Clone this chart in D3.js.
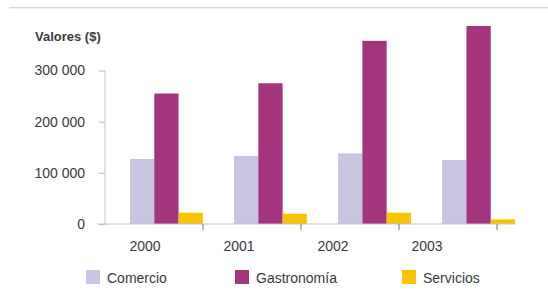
<!DOCTYPE html>
<html>
<head>
<meta charset="utf-8">
<script src="https://cdn.jsdelivr.net/npm/d3@7"></script>
<style>
  html, body { margin: 0; padding: 0; background: #fff; }
  svg { display: block; }
  text { font-family: "Liberation Sans", Arial, Helvetica, sans-serif; fill: #3a3a3a; }
</style>
</head>
<body>
<svg id="chart" width="548" height="295"></svg>
<script>
// ---- data ----
const years = ["2000", "2001", "2002", "2003"];
const seriesNames = ["Comercio", "Gastronomía", "Servicios"];
const comercio = [127000, 133000, 138000, 125000];
const gastronomia = [255000, 275000, 358000, 387000];
const servicios = [22000, 20000, 22000, 9000];
const yTicks = [0, 100000, 200000, 300000];
const colors = ["#c9c4e1", "#a3347e", "#f8c400"];

const seriesValues = [comercio, gastronomia, servicios];
const rows = years.map((y, i) => ({ year: y, values: seriesValues.map(s => s[i]) }));

const svg = d3.select("#chart");

// faint top rule
svg.append("line").attr("x1", 9).attr("x2", 548).attr("y1", 7.5).attr("y2", 7.5)
  .attr("stroke", "#d9d9d9").attr("stroke-width", 1);
svg.append("line").attr("x1", 9).attr("x2", 548).attr("y1", 8.5).attr("y2", 8.5)
  .attr("stroke", "#efefef").attr("stroke-width", 1);

// scales
const x0 = d3.scaleBand().domain(years).range([130, 515]).paddingInner(0.3).paddingOuter(0);
const x1 = d3.scaleBand().domain(seriesNames).range([0, x0.bandwidth()]).padding(0);
const y = d3.scaleLinear().domain([0, 300000]).range([224, 70.5]);
const color = d3.scaleOrdinal().domain(seriesNames).range(colors);
const xLabel = d3.scalePoint().domain(years).range([145, 427]);
const xTick = d3.scalePoint().domain(years).range([203, 497]);

// bars
const g = svg.append("g");
g.selectAll("g.grp").data(rows).join("g")
  .attr("class", "grp")
  .attr("transform", d => `translate(${x0(d.year)},0)`)
  .selectAll("rect")
  .data(d => d.values.map((v, i) => ({ name: seriesNames[i], v })))
  .join("rect")
  .attr("x", d => x1(d.name))
  .attr("width", x1.bandwidth())
  .attr("y", d => y(d.v))
  .attr("height", d => y(0) - y(d.v))
  .attr("fill", d => color(d.name));

// y axis
const fmt = v => d3.format(",")(v).replace(/,/g, " ");
const yAxis = svg.append("g").attr("transform", "translate(105,0)")
  .call(d3.axisLeft(y).tickValues(yTicks).tickFormat(fmt).tickSize(6).tickPadding(14));
yAxis.select(".domain").attr("stroke", "#c4c4c4").attr("d", `M0,${y(300000)}V${y(0)}`);
yAxis.selectAll(".tick line").attr("stroke", "#b8b8b8");
yAxis.selectAll(".tick text").attr("font-size", 14).attr("fill", "#3a3a3a")
  .style("font-family", "'Liberation Sans', Arial, sans-serif");

// baseline
svg.append("line").attr("x1", 97).attr("x2", 515).attr("y1", y(0)).attr("y2", y(0))
  .attr("stroke", "#c4c4c4").attr("stroke-width", 1);

// x ticks
svg.append("g").selectAll("line").data(years).join("line")
  .attr("x1", d => xTick(d)).attr("x2", d => xTick(d))
  .attr("y1", y(0)).attr("y2", y(0) + 6)
  .attr("stroke", "#777").attr("stroke-width", 1);

// x labels
svg.append("g").selectAll("text").data(years).join("text")
  .attr("x", d => xLabel(d)).attr("y", 250.5)
  .attr("text-anchor", "middle").attr("font-size", 14)
  .text(d => d);

// title
svg.append("text").attr("x", 35).attr("y", 40.5)
  .attr("font-size", 13).attr("font-weight", "bold").attr("fill", "#333")
  .text("Valores ($)");

// legend
const legendX = [86, 235, 402];
const lg = svg.append("g").selectAll("g").data(seriesNames).join("g")
  .attr("transform", (d, i) => `translate(${legendX[i]},270)`);
lg.append("rect").attr("width", 14).attr("height", 14).attr("fill", d => color(d));
lg.append("text").attr("x", 21).attr("y", 12.7).attr("font-size", 14).text(d => d);
</script>
</body>
</html>
